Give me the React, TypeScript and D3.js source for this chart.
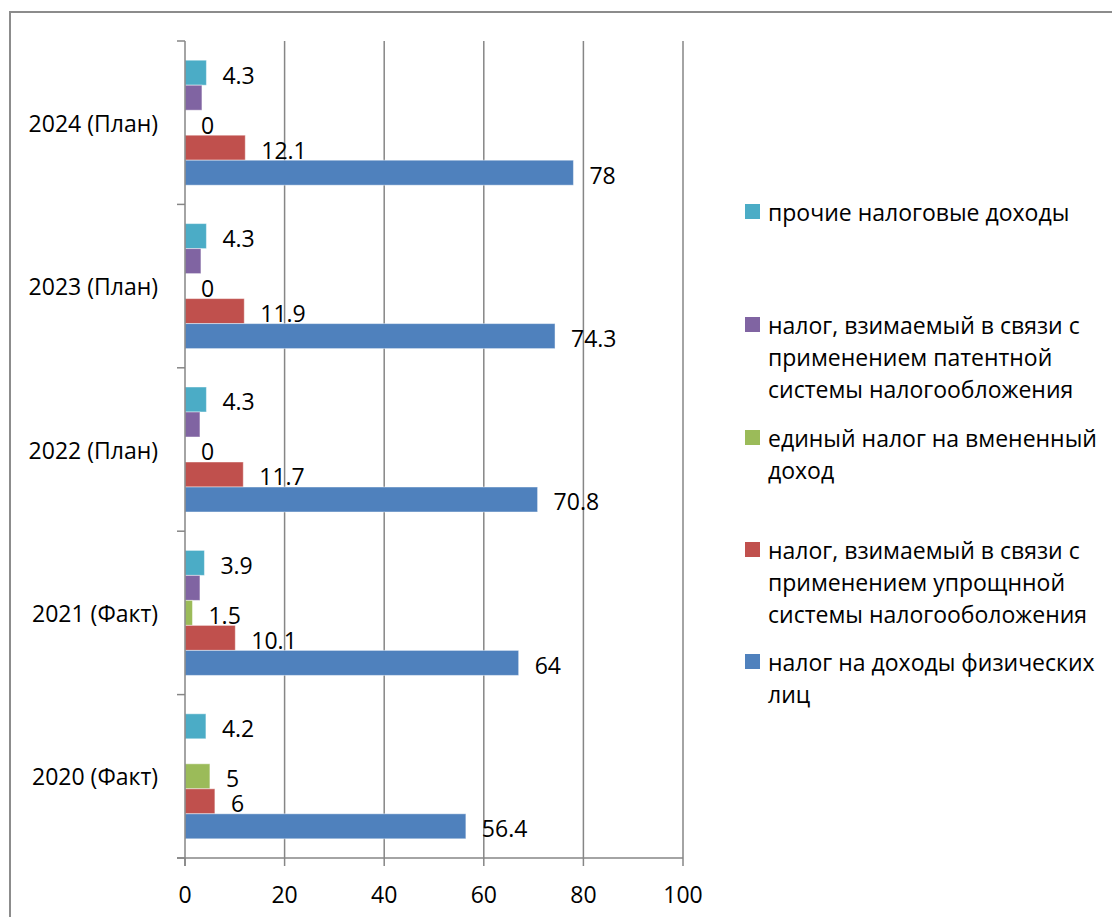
import React from "react";
import * as d3 from "d3";

const categories = ["2024 (План)", "2023 (План)", "2022 (План)", "2021 (Факт)", "2020 (Факт)"];
// bar lengths as drawn (top to bottom)
const otherTax = [4.3, 4.3, 4.3, 3.9, 4.2];
const patentTax = [3.4, 3.2, 3.0, 3.0, null];
const envdTax = [0, 0, 0, 1.5, 5];
const usnTax = [12.1, 11.9, 11.7, 10.1, 6];
const ndflTax = [78, 74.3, 70.8, 67, 56.4];
// data labels as printed on the chart
const otherLabels = ["4.3", "4.3", "4.3", "3.9", "4.2"];
const envdLabels = ["0", "0", "0", "1.5", "5"];
const usnLabels = ["12.1", "11.9", "11.7", "10.1", "6"];
const ndflLabels = ["78", "74.3", "70.8", "64", "56.4"];
const xTicks = [0, 20, 40, 60, 80, 100];

const series = [
  { key: "other", values: otherTax, labels: otherLabels as string[] | null, color: "#4BACC6", legend: ["прочие налоговые доходы"] },
  { key: "patent", values: patentTax, labels: null, color: "#8064A2", legend: ["налог, взимаемый в связи с", "применением патентной", "системы налогообложения"] },
  { key: "envd", values: envdTax, labels: envdLabels, color: "#9BBB59", legend: ["единый налог на вмененный", "доход"] },
  { key: "usn", values: usnTax, labels: usnLabels, color: "#C0504D", legend: ["налог, взимаемый в связи с", "применением упрощнной", "системы налогооболожения"] },
  { key: "ndfl", values: ndflTax, labels: ndflLabels, color: "#4F81BD", legend: ["налог на доходы физических", "лиц"] },
];

const FONT = "'Open Sans', sans-serif";
const FS = 23;

export default function App() {
  const W = 1112, H = 917;
  const x = d3.scaleLinear().domain([0, 100]).range([185, 683]);
  const y0 = d3.scaleBand<string>().domain(categories).range([41, 858]).padding(0);
  const y1 = d3.scaleBand<string>().domain(series.map(s => s.key)).range([0, y0.bandwidth()]).paddingInner(0).paddingOuter(0.768);
  const axisColor = "#868686";
  const legendY = [212, 325, 438, 550, 662];
  const boundaries = categories.map(c => y0(c)!).concat([858]);

  return (
    <svg width={W} height={H} style={{ position: "absolute", left: 0, top: 0, background: "#fff" }} fontFamily={FONT}>
      <rect x={10} y={12} width={W + 20} height={H + 20} fill="#fff" stroke="#8c8c8c" strokeWidth={2} />
      {xTicks.slice(1).map(t => (
        <line key={"g" + t} x1={x(t)} x2={x(t)} y1={41} y2={858} stroke={axisColor} strokeWidth={1.5} />
      ))}
      {categories.map((c, ci) => (
        <g key={c} transform={`translate(0,${y0(c)})`}>
          {series.map(s => {
            const v = s.values[ci];
            if (v === null || v === undefined) return null;
            const yy = y1(s.key)!;
            return (
              <g key={s.key}>
                {v > 0 && (
                  <rect x={x(0)} y={yy} width={x(v) - x(0)} height={y1.bandwidth()} fill={s.color} stroke="rgba(255,255,255,0.45)" strokeWidth={1} />
                )}
                {s.labels && (
                  <text x={x(v) + 16} y={yy + y1.bandwidth() / 2 + 2} dominantBaseline="central" fontSize={FS} fill="#000">
                    {s.labels[ci]}
                  </text>
                )}
              </g>
            );
          })}
        </g>
      ))}
      <line x1={x(0)} x2={x(0)} y1={41} y2={866} stroke={axisColor} strokeWidth={1.5} />
      <line x1={177} x2={x(100)} y1={858} y2={858} stroke={axisColor} strokeWidth={1.5} />
      {boundaries.map((b, i) => (
        <line key={"yt" + i} x1={177} x2={x(0)} y1={b} y2={b} stroke={axisColor} strokeWidth={1.5} />
      ))}
      {xTicks.map(t => (
        <g key={"xt" + t}>
          <line x1={x(t)} x2={x(t)} y1={858} y2={866} stroke={axisColor} strokeWidth={1.5} />
          <text x={x(t)} y={894} textAnchor="middle" dominantBaseline="central" fontSize={FS} fill="#000">{t}</text>
        </g>
      ))}
      {categories.map(c => (
        <text key={"yl" + c} x={158} y={y0(c)! + y0.bandwidth() / 2} textAnchor="end" dominantBaseline="central" fontSize={FS} fill="#000">{c}</text>
      ))}
      {series.map((s, i) => (
        <g key={"lg" + s.key}>
          <rect x={745} y={legendY[i] - 8} width={15} height={15} fill={s.color} />
          {s.legend.map((line, li) => (
            <text key={li} x={768} y={legendY[i] + li * 32} dominantBaseline="central" fontSize={FS} fill="#000">{line}</text>
          ))}
        </g>
      ))}
    </svg>
  );
}
